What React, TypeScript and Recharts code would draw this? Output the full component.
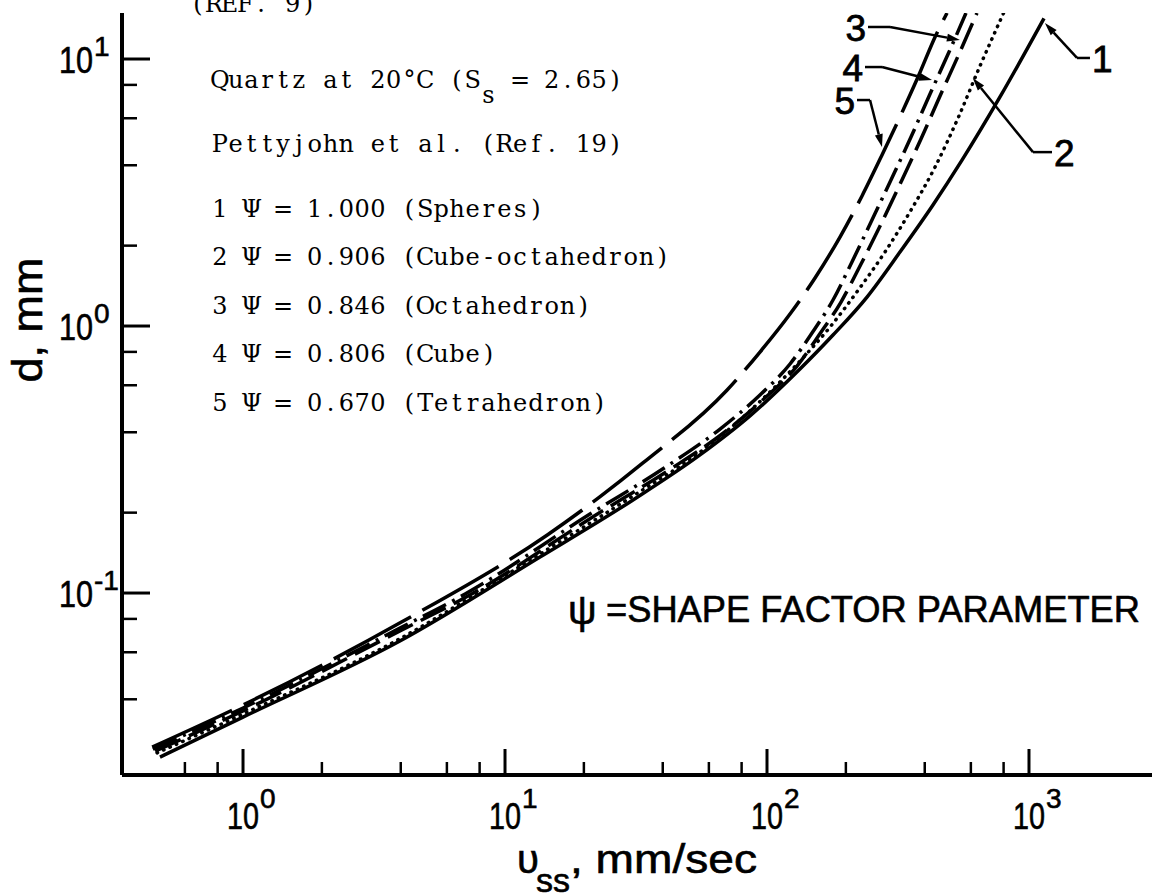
import { LineChart, Line, XAxis, YAxis, ReferenceLine } from 'recharts'

// settling velocity v (mm/s) against grain diameter d (mm), quartz at 20°C
const spheres = [
  { v: 0.482, d: 0.0243 }, { v: 1.0, d: 0.0343 }, { v: 3.97, d: 0.0661 }, { v: 13.6, d: 0.1364 },
  { v: 30.8, d: 0.2231 }, { v: 55.5, d: 0.329 }, { v: 86.1, d: 0.4606 }, { v: 133.6, d: 0.69 },
  { v: 178.6, d: 0.925 }, { v: 240.8, d: 1.284 }, { v: 321.8, d: 1.893 }, { v: 430, d: 2.84 },
  { v: 555, d: 4.18 }, { v: 775, d: 7.21 }, { v: 1141, d: 14.2 },
]
const cubeOctahedron = [
  { v: 0.47, d: 0.0252 }, { v: 1.0, d: 0.0352 }, { v: 4.01, d: 0.0678 }, { v: 13.6, d: 0.14 },
  { v: 30.8, d: 0.231 }, { v: 55.5, d: 0.337 }, { v: 86.1, d: 0.481 }, { v: 133.6, d: 0.739 },
  { v: 174, d: 0.991 }, { v: 226, d: 1.388 }, { v: 282, d: 1.893 }, { v: 351, d: 2.673 },
  { v: 438, d: 3.94 }, { v: 536, d: 6.01 }, { v: 650, d: 9.41 }, { v: 803, d: 15.0 },
]
const octahedron = [
  { v: 0.462, d: 0.0256 }, { v: 1.0, d: 0.0362 }, { v: 4.04, d: 0.0727 }, { v: 7.22, d: 0.0974 },
  { v: 21.9, d: 0.1942 }, { v: 42.3, d: 0.289 }, { v: 69.8, d: 0.4044 }, { v: 99.1, d: 0.542 },
  { v: 130.2, d: 0.708 }, { v: 158, d: 0.925 }, { v: 191.6, d: 1.23 }, { v: 228.5, d: 1.707 },
  { v: 272.4, d: 2.41 }, { v: 324.7, d: 3.462 }, { v: 387, d: 5.016 }, { v: 457.5, d: 7.268 },
  { v: 540.5, d: 10.44 }, { v: 633, d: 14.87 },
]
const cube = [
  { v: 0.453, d: 0.026 }, { v: 1.0, d: 0.0371 }, { v: 3.97, d: 0.0739 }, { v: 7.04, d: 0.0991 },
  { v: 21.1, d: 0.1976 }, { v: 40.5, d: 0.2938 }, { v: 66.2, d: 0.4114 }, { v: 94.0, d: 0.5515 },
  { v: 122.4, d: 0.7208 }, { v: 148.5, d: 0.9414 }, { v: 178.6, d: 1.2513 }, { v: 211, d: 1.737 },
  { v: 249.5, d: 2.452 }, { v: 297.3, d: 3.523 }, { v: 354.5, d: 5.104 }, { v: 419, d: 7.394 },
  { v: 495.1, d: 10.62 }, { v: 574.8, d: 14.87 },
]
const tetrahedron = [
  { v: 0.45, d: 0.0265 }, { v: 1.0, d: 0.0381 }, { v: 4.01, d: 0.0777 }, { v: 14.5, d: 0.165 },
  { v: 23.0, d: 0.229 }, { v: 33.6, d: 0.307 }, { v: 70.3, d: 0.575 }, { v: 94.0, d: 0.799 },
  { v: 122.4, d: 1.109 }, { v: 152.5, d: 1.513 }, { v: 189.9, d: 2.154 }, { v: 230.5, d: 3.07 },
  { v: 274.8, d: 4.37 }, { v: 321.8, d: 6.07 }, { v: 377, d: 8.56 }, { v: 441.6, d: 12.3 },
  { v: 486.6, d: 14.87 },
]

const xTicks = [0.6, 0.8, 1, 2, 4, 6, 8, 10, 20, 40, 60, 80, 100, 200, 400, 600, 800, 1000]
const yTicks = [0.04, 0.06, 0.08, 0.1, 0.2, 0.4, 0.6, 0.8, 1, 2, 4, 6, 8, 10]

const legendLines = [
  '1 Ψ = 1.000 (Spheres)',
  '2 Ψ = 0.906 (Cube-octahedron)',
  '3 Ψ = 0.846 (Octahedron)',
  '4 Ψ = 0.806 (Cube)',
  '5 Ψ = 0.670 (Tetrahedron)',
]

// curve callouts: label end of the leader, bend point, arrow tip
const callouts = [
  { label: '3', side: 'left', start: { v: 243, d: 13.18 }, bend: { v: 294.8, d: 13.18 }, tip: { v: 545, d: 11.78 } },
  { label: '4', side: 'left', start: { v: 236.6, d: 9.33 }, bend: { v: 274.8, d: 9.33 }, tip: { v: 426.5, d: 8.34 } },
  { label: '5', side: 'left', start: { v: 220.5, d: 7.02 }, bend: { v: 247.3, d: 7.02 }, tip: { v: 274.8, d: 4.68 } },
  { label: '1', side: 'right', start: { v: 1709, d: 10.09 }, bend: { v: 1525, d: 10.09 }, tip: { v: 1150, d: 13.64 } },
  { label: '2', side: 'right', start: { v: 1224, d: 4.48 }, bend: { v: 1036, d: 4.48 }, tip: { v: 610, d: 8.49 } },
]

const X_DOMAIN = [0.3452, 2948]
const Y_DOMAIN = [0.02082, 14.87]

const SANS = '"Liberation Sans", Arial, sans-serif'
const TYPE = '"DejaVu Serif", "Liberation Serif", serif'
const CELL = 15.8

function isDecade(value: number) {
  const e = Math.log10(value)
  return Math.abs(e - Math.round(e)) < 1e-9
}

function XTick(props: any) {
  const { x, y, payload } = props
  const major = isDecade(payload.value)
  const exp = Math.round(Math.log10(payload.value))
  return (
    <g>
      <line x1={x} x2={x} y1={y} y2={y - (major ? 26 : 13)} stroke="#000" strokeWidth={major ? 3 : 2.5} />
      {major && (
        <g fill="#000" stroke="#000" strokeWidth={0.6} fontFamily={SANS}>
          <text x={x} y={y + 54} fontSize={37} textAnchor="middle" textLength={32} lengthAdjust="spacingAndGlyphs">10</text>
          <text x={x + 17} y={y + 33} fontSize={28}>{exp}</text>
        </g>
      )}
    </g>
  )
}

function YTick(props: any) {
  const { x, y, payload } = props
  const major = isDecade(payload.value)
  const exp = Math.round(Math.log10(payload.value))
  return (
    <g>
      <line x1={x} x2={x + (major ? 28 : 15)} y1={y} y2={y} stroke="#000" strokeWidth={major ? 3 : 2.5} />
      {major && (
        <g fill="#000" stroke="#000" strokeWidth={0.6} fontFamily={SANS}>
          <text x={x - 29} y={y + 14} fontSize={37} textAnchor="end" textLength={34} lengthAdjust="spacingAndGlyphs">10</text>
          <text x={x - 28} y={y - 3} fontSize={28}>{exp < 0 ? '-' + Math.abs(exp) : exp}</text>
        </g>
      )}
    </g>
  )
}

// typewriter text: every character sits in its own fixed-width cell
function TypeLine({ x, y, text, size = 24 }: { x: number; y: number; text: string; size?: number }) {
  const chars = Array.from(text)
  return (
    <text y={y} fontFamily={TYPE} fontSize={size} fill="#000" textAnchor="middle">
      {chars.map((c, i) => (c === ' ' ? null : <tspan key={i} x={x + CELL * (i + 0.5)}>{c}</tspan>))}
    </text>
  )
}

function leaderShape(label: string, side: string) {
  return (props: any) => {
    const { x1, y1, x2, y2 } = props
    return (
      <g>
        <line x1={x1} y1={y1} x2={x2} y2={y2} stroke="#000" strokeWidth={2.5} />
        <text
          x={side === 'left' ? x1 - 2 : x1 + 2}
          y={y1 + 14}
          textAnchor={side === 'left' ? 'end' : 'start'}
          fontFamily={SANS}
          fontSize={37}
          fill="#000"
          stroke="#000"
          strokeWidth={0.8}
        >
          {label}
        </text>
      </g>
    )
  }
}

function arrowShape(props: any) {
  const { x1, y1, x2, y2 } = props
  const ang = Math.atan2(y2 - y1, x2 - x1)
  const len = 13
  const half = 4
  const bx = x2 - len * Math.cos(ang)
  const by = y2 - len * Math.sin(ang)
  const px = -Math.sin(ang) * half
  const py = Math.cos(ang) * half
  return (
    <g>
      <line x1={x1} y1={y1} x2={bx} y2={by} stroke="#000" strokeWidth={2.5} />
      <polygon points={`${x2},${y2} ${bx + px},${by + py} ${bx - px},${by - py}`} fill="#000" />
    </g>
  )
}

export default function App() {
  return (
    <div style={{ position: 'absolute', left: 0, top: 0, width: 1152, height: 896, background: '#fff' }}>
      <LineChart width={1152} height={896} margin={{ top: 13, right: 0, bottom: 0, left: 0 }}>
        <XAxis
          type="number"
          dataKey="v"
          scale="log"
          domain={X_DOMAIN}
          allowDataOverflow
          ticks={xTicks}
          interval={0}
          tickSize={0}
          tickMargin={0}
          tickLine={false}
          tick={<XTick />}
          axisLine={{ stroke: '#000', strokeWidth: 4 }}
          height={121}
        />
        <YAxis
          type="number"
          dataKey="d"
          scale="log"
          domain={Y_DOMAIN}
          allowDataOverflow
          ticks={yTicks}
          interval={0}
          tickSize={0}
          tickMargin={0}
          tickLine={false}
          tick={<YTick />}
          axisLine={{ stroke: '#000', strokeWidth: 4 }}
          width={122}
        />
        <Line data={tetrahedron} dataKey="d" type="monotone" dot={false} stroke="#000" strokeWidth={3.5} strokeDasharray="88 13" isAnimationActive={false} />
        <Line data={cube} dataKey="d" type="monotone" dot={false} stroke="#000" strokeWidth={3.5} strokeDasharray="26 7 3 7" isAnimationActive={false} />
        <Line data={octahedron} dataKey="d" type="monotone" dot={false} stroke="#000" strokeWidth={3.5} strokeDasharray="28 9" isAnimationActive={false} />
        <Line data={cubeOctahedron} dataKey="d" type="monotone" dot={false} stroke="#000" strokeWidth={3.5} strokeDasharray="0.5 6.5" strokeLinecap="round" isAnimationActive={false} />
        <Line data={spheres} dataKey="d" type="monotone" dot={false} stroke="#000" strokeWidth={3.5} isAnimationActive={false} />
        {callouts.map((c) => (
          <ReferenceLine
            key={'s' + c.label}
            segment={[{ x: c.start.v, y: c.start.d }, { x: c.bend.v, y: c.bend.d }]}
            shape={leaderShape(c.label, c.side)}
            ifOverflow="visible"
          />
        ))}
        {callouts.map((c) => (
          <ReferenceLine
            key={'a' + c.label}
            segment={[{ x: c.bend.v, y: c.bend.d }, { x: c.tip.v, y: c.tip.d }]}
            shape={arrowShape}
            ifOverflow="visible"
          />
        ))}
      </LineChart>
      <svg width={1152} height={896} style={{ position: 'absolute', left: 0, top: 0, pointerEvents: 'none' }}>
        <TypeLine x={190} y={12} text="(REF. 9)" />
        <TypeLine x={212} y={88} text="Quartz at 20°C (S  = 2.65)" />
        <TypeLine x={212 + CELL * 17} y={103} text="s" />
        <TypeLine x={212} y={152} text="Pettyjohn et al. (Ref. 19)" />
        {legendLines.map((t, i) => (
          <TypeLine key={t} x={212} y={217 + i * 48.4} text={t} />
        ))}
        <g fill="#000" stroke="#000" strokeWidth={0.6} fontFamily={SANS}>
          <text x={568} y={624} fontSize={40}>ψ</text>
          <text x={606} y={622} fontSize={37} textLength={534} lengthAdjust="spacingAndGlyphs">=SHAPE FACTOR PARAMETER</text>
          <text x={42} y={320} fontSize={43} textAnchor="middle" transform="rotate(-90 42 320)" textLength={125} lengthAdjust="spacingAndGlyphs">d, mm</text>
          <text x={517} y={873} fontSize={40}>υ</text>
          <text x={536} y={892} fontSize={34}>ss</text>
          <text x={570} y={873} fontSize={40} textLength={187} lengthAdjust="spacingAndGlyphs">, mm/sec</text>
        </g>
      </svg>
    </div>
  )
}
